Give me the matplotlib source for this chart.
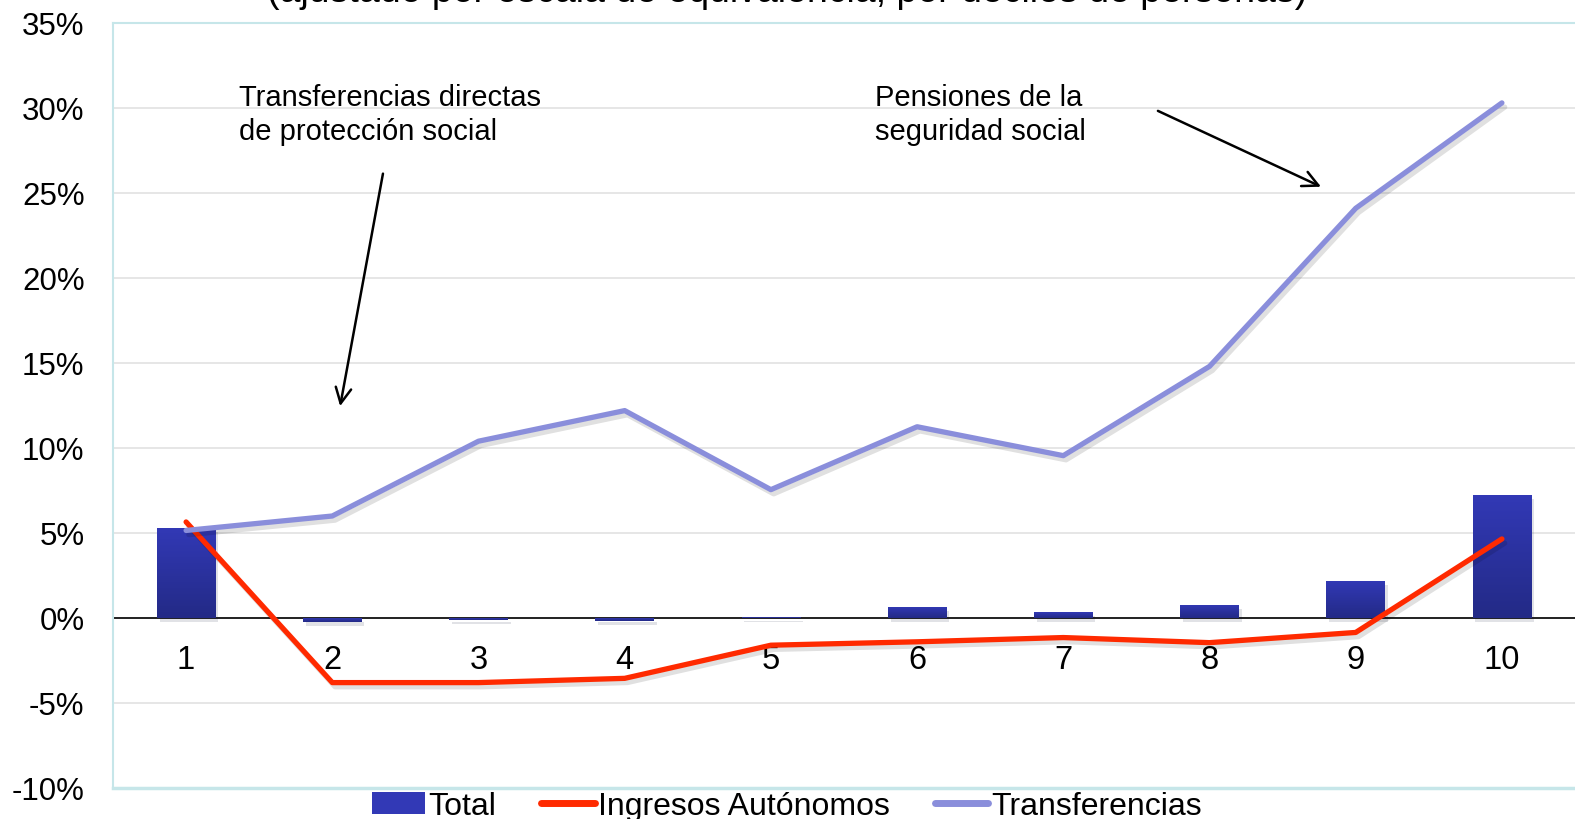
import numpy as np
import matplotlib.pyplot as plt
import matplotlib.patheffects as pe
from matplotlib.patches import Patch
from matplotlib.lines import Line2D

deciles = [1, 2, 3, 4, 5, 6, 7, 8, 9, 10]
total = [5.3, -0.25, -0.12, -0.18, 0.06, 0.65, 0.35, 0.78, 2.2, 7.25]
ingresos = [5.65, -3.8, -3.8, -3.55, -1.6, -1.4, -1.15, -1.45, -0.85, 4.65]
transferencias = [5.15, 6.0, 10.4, 12.2, 7.55, 11.25, 9.55, 14.8, 24.1, 30.3]
yticks = [-10, -5, 0, 5, 10, 15, 20, 25, 30, 35]

BAR_TOP = '#3239b6'
BAR_BOT = '#232a86'
RED = '#ff2a00'
LILAC = '#8a8edb'
FRAME = '#c6e6e9'

narrow = ['Liberation Sans Narrow', 'Liberation Sans', 'DejaVu Sans']
regular = ['Liberation Sans', 'DejaVu Sans']

fig = plt.figure(figsize=(15.75, 8.2), dpi=100)
ax = fig.add_axes([113 / 1575, 1 - 789 / 820, 1 - 113 / 1575, (789 - 24) / 820])

# axis crosses at zero (set first: set_position resets the ticks)
ax.spines['bottom'].set_position(('data', 0))
ax.spines['bottom'].set_color('black')
ax.spines['bottom'].set_linewidth(1.2)
ax.spines['bottom'].set_zorder(1.5)
ax.spines['left'].set_color(FRAME)
ax.spines['left'].set_linewidth(1.5)
ax.spines['top'].set_color(FRAME)
ax.spines['top'].set_linewidth(1.5)
ax.spines['right'].set_visible(False)

# bars with a vertical gradient
grad = np.linspace(0, 1, 256).reshape(-1, 1)
cmap = plt.matplotlib.colors.LinearSegmentedColormap.from_list('g', [BAR_BOT, BAR_TOP])
bars = ax.bar(deciles, total, width=0.4, color=BAR_TOP, zorder=2,
              path_effects=[pe.SimplePatchShadow(offset=(2, -3), alpha=0.12), pe.Normal()])
for b in bars:
    x0, y0 = b.get_x(), b.get_y()
    w, h = b.get_width(), b.get_height()
    lo, hi = min(y0, y0 + h), max(y0, y0 + h)
    im = ax.imshow(grad, extent=[x0, x0 + w, lo, hi], origin='lower', cmap=cmap,
                   aspect='auto', zorder=2.1)
    im.set_clip_path(b)

shadow = [pe.SimpleLineShadow(offset=(2, -3), alpha=0.12), pe.Normal()]
ax.plot(deciles, ingresos, color=RED, lw=3.8, zorder=3, solid_capstyle='round',
        path_effects=shadow)
ax.plot(deciles, transferencias, color=LILAC, lw=3.8, zorder=3, solid_capstyle='round',
        path_effects=shadow)

ax.set_xlim(0.5, 10.5)
ax.set_ylim(-10, 35)
ax.set_yticks(yticks)
ax.set_yticklabels([f'{v}%' for v in yticks], family=regular, fontsize=22.5)
ax.set_xticks(deciles)
ax.set_xticklabels([str(d) for d in deciles], family=regular, fontsize=23.5)
ax.tick_params(axis='y', length=0, pad=20.5)
ax.tick_params(axis='x', length=0, pad=19)
ax.yaxis.grid(True, color='#e2e2e2', lw=1.2, zorder=0)
ax.set_axisbelow(True)
ax.axhline(-10, color=FRAME, lw=2.5, clip_on=False, zorder=1)

ax.text(1.36, 31.45, 'Transferencias directas\nde protección social', family=regular,
        fontsize=21, va='top', ha='left', linespacing=1.27)
ax.text(5.71, 31.45, 'Pensiones de la\nseguridad social', family=regular,
        fontsize=21, va='top', ha='left', linespacing=1.27)
arrow = dict(arrowstyle='->', lw=1.8, color='black', mutation_scale=28)
ax.annotate('', xy=(2.05, 12.3), xytext=(2.35, 26.3), arrowprops=arrow)
ax.annotate('', xy=(8.78, 25.3), xytext=(7.63, 29.9), arrowprops=arrow)

fig.text(787 / 1575, 1 - 1.5 / 820,
         '(ajustado por escala de equivalencia, por deciles de personas)',
         family=regular, fontsize=27, ha='center', va='baseline')

handles = [Patch(facecolor=BAR_TOP, edgecolor='none'),
           Line2D([], [], color=RED, lw=5, solid_capstyle='round'),
           Line2D([], [], color=LILAC, lw=5, solid_capstyle='round')]
fig.legend(handles, ['Total', 'Ingresos Autónomos', 'Transferencias'],
           loc='center', bbox_to_anchor=(787 / 1575, 1 - 807 / 820), ncol=3,
           frameon=False, prop={'family': narrow, 'size': 23},
           handlelength=1.68, handletextpad=0.1, columnspacing=1.4,
           borderaxespad=0, borderpad=0)

fig.savefig('out.png', dpi=100)
